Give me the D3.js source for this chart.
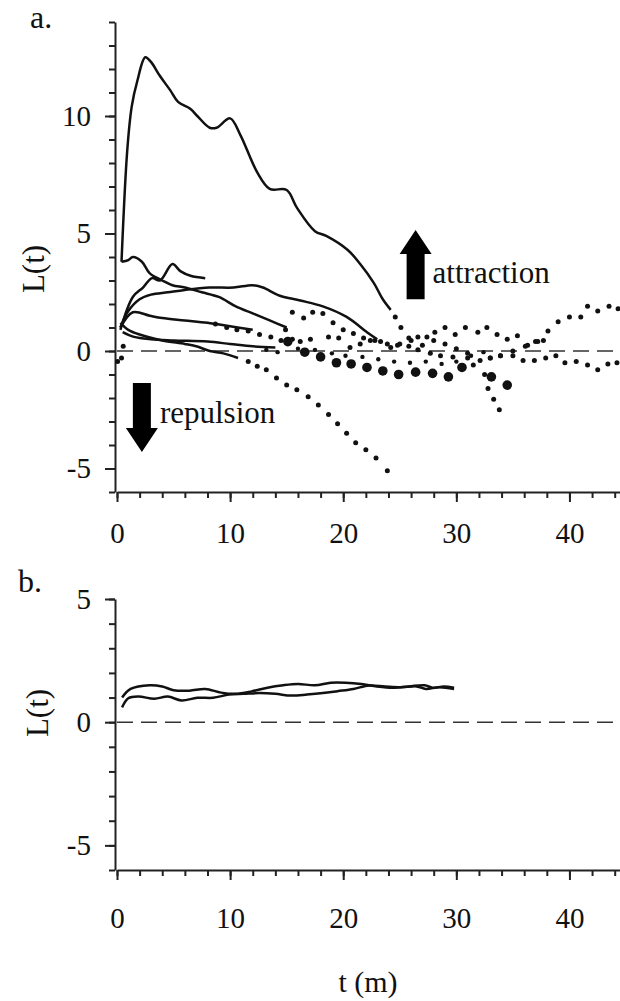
<!DOCTYPE html>
<html>
<head>
<meta charset="utf-8">
<script src="https://cdn.jsdelivr.net/npm/d3@7"></script>
<style>
  body { margin: 0; background: #fff; }
</style>
</head>
<body>
<svg id="chart" width="620" height="1001"></svg>
<script>
const FONT = "'Liberation Serif', 'DejaVu Serif', serif";

// ---- 데이터 (a 패널: 실선 구간) ----
const seriesA = [[0.4,3.8],[0.9,8.5],[1.3,10.4],[1.8,11.5],[2.5,12.5],[3.0,12.3],[3.8,11.7],[4.7,11.1],[5.4,10.6],[6.5,10.3],[7.1,10.0],[8.2,9.5],[8.8,9.5],[10,9.9],[10.9,9.2],[12.4,7.6],[13.5,6.9],[15,6.85],[15.9,6.1],[17.5,5.1],[18.5,4.9],[20.4,4.3],[21.5,3.7],[22.7,2.9],[23.5,2.2],[24.2,1.75]];
const seriesB = [[0.4,3.8],[1.0,3.87],[1.4,4.0],[2.2,3.8],[2.9,3.3],[4.0,3.0],[4.9,2.8],[6.0,2.7],[7.5,2.5],[9,2.3],[10.5,1.9],[12,1.6],[13.5,1.3],[15,1.0]];
const seriesC = [[0.3,0.9],[1.4,2.3],[2.3,2.7],[3.1,3.1],[3.8,3.0],[4.9,3.7],[5.6,3.4],[6.5,3.2],[7.8,3.1]];
const seriesD = [[0.3,1.0],[1.0,1.7],[2,2.2],[3,2.4],[4.5,2.5],[6,2.6],[8.2,2.7],[10.3,2.7],[12,2.8],[12.9,2.7],[14.4,2.35],[16.2,2.15],[18.2,1.9],[20.3,1.45],[22.1,0.8],[23,0.5]];
const seriesE = [[0.3,1.0],[1.4,1.65],[2.9,1.5],[4,1.4],[6,1.3],[8,1.2],[10,1.05],[12,0.9]];
const seriesF = [[0.5,0.8],[1.5,0.6],[3,0.5],[5,0.45],[8,0.4],[10,0.3],[12,0.2],[14,0.15]];
const seriesG = [[0.3,1.2],[1,0.9],[2,0.7],[4,0.45],[6,0.3],[7,0.2],[8.2,0],[9.4,-0.1],[10.7,-0.3]];

// ---- 데이터 (a 패널: 점선 구간) ----
const dotsA = [[24.6,1.45],[25.1,1.0],[25.8,0.55],[26.6,0.6],[27.4,0.6],[28.1,0.8],[29,1.0],[29.9,0.7],[30.8,1.0],[31.9,0.8],[32.7,1.0],[33.6,0.7],[34.5,0.5],[35.4,0.65],[36.3,0.25],[37,0.4],[37.7,0.45],[38.1,0.85],[39,1.25],[40,1.45],[41,1.45],[41.6,1.9],[42.5,1.7],[43.5,1.9],[44.3,1.8]];
const dotsG = [[11.6,-0.45],[12.4,-0.65],[13.2,-0.8],[14.1,-1.15],[15,-1.45],[15.9,-1.65],[16.9,-1.95],[17.8,-2.3],[18.7,-2.7],[19.5,-3.1],[20.3,-3.5],[21.1,-3.9],[22,-4.2],[22.9,-4.55],[23.9,-5.1]];
const dotsP = [[15.5,1.65],[16.5,1.4],[17.3,1.65],[18.2,1.6],[19.1,1.2],[20,0.9],[20.9,0.75],[21.8,0.55],[22.8,0.45],[23.9,0.3],[24.8,0.25],[25.8,0.2],[26.6,0.05],[27.7,-0.1],[28.6,-0.2],[29.7,-0.25],[31,-0.3],[32.1,-0.4],[33,-0.3],[33.9,-0.2],[35,0],[36.1,0.2],[37.2,0.4]];
const dotsQ = [[33,-0.3],[33.9,-0.2],[35,-0.2],[35.9,-0.4],[36.9,-0.4],[37.9,-0.3],[38.8,-0.2],[39.6,-0.5],[40.6,-0.45],[41.6,-0.6],[42.5,-0.8],[43.4,-0.55],[44.2,-0.5]];
const dotsR = [[8.7,1.15],[9.7,1.0],[10.6,0.9],[11.6,0.85],[12.6,0.7],[13.6,0.6],[14.5,0.45],[15.5,0.5]];
const dotsS = [[31.5,-0.6],[32.5,-1.0],[32.8,-1.6],[33.3,-2.05],[33.8,-2.5]];
const dotsT = [[14.9,0.9],[16.2,0.4],[17.1,0.5],[18.7,0.6],[19.6,0.55],[20.6,0.15],[21.5,0.3],[22.4,0.45],[23.3,0.4],[24.2,0.15],[25,0.3],[26,0.45],[27,0.25],[28,0.45],[29,0.3],[30,0.1],[31,-0.1]];
const dotsU = [[13.2,0.05],[14.2,-0.05],[16,0.1],[17.5,0.05],[19,-0.1],[20.2,-0.2],[21.7,-0.25],[23.1,-0.35],[24.5,-0.45],[25.9,-0.5],[27.3,-0.45],[28.7,-0.55],[30,-0.45],[31.3,-0.2],[32.4,-0.05]];
const dotsOrigin = [[0.05,-0.45],[0.4,-0.3],[0.55,0.2]];
const bigDots = [[15.1,0.4],[16.6,-0.05],[18,-0.25],[19.4,-0.5],[20.7,-0.55],[22.1,-0.7],[23.5,-0.85],[24.9,-1.0],[26.4,-0.9],[27.9,-0.95],[29.3,-1.1],[30.5,-0.7],[33.1,-1.1],[34.5,-1.45]];

// ---- 데이터 (b 패널) ----
const seriesB1 = [[0.45,1.0],[1.2,1.35],[2.9,1.5],[4,1.45],[5,1.3],[6.4,1.28],[7.8,1.35],[9.2,1.2],[10.5,1.15],[11.9,1.25],[13.3,1.4],[14.7,1.5],[16,1.55],[17.5,1.5],[18.9,1.6],[20.2,1.6],[21.6,1.55],[23,1.45],[24.4,1.4],[25.8,1.45],[27.2,1.5],[27.9,1.4],[28.9,1.45],[29.8,1.4]];
const seriesB2 = [[0.45,0.6],[1.0,0.97],[1.9,1.04],[3.3,0.95],[4.5,1.04],[5.7,0.88],[7.1,0.99],[8.5,0.99],[9.9,1.12],[11.2,1.15],[12.6,1.18],[14,1.15],[15.4,1.08],[16.8,1.12],[18.2,1.18],[19.5,1.26],[20.9,1.35],[22.3,1.49],[23.7,1.45],[25.1,1.42],[26.5,1.45],[27.3,1.35],[28.5,1.42],[29.8,1.35]];

// ---- 눈금 ----
const xMajorTicks = [0, 10, 20, 30, 40];
const xMinorTicks = d3.range(0, 46, 2);
const yTopMajorTicks = [-5, 0, 5, 10];
const yTopMinorTicks = d3.range(-6, 15, 1);
const yBotMajorTicks = [-5, 0, 5];
const yBotMinorTicks = d3.range(-6, 6, 1);

// ---- 화살표 주석 (t, L 좌표) ----
const attractionArrow = { t: 26.4, from: 2.2, to: 5.15 };
const repulsionArrow = { t: 2.2, from: -1.36, to: -4.3 };

const svg = d3.select("#chart");
svg.append("rect").attr("width", 620).attr("height", 1001).attr("fill", "#fff");

const x = d3.scaleLinear().domain([0, 45]).range([117, 626]);
const yTop = d3.scaleLinear().domain([-6, 14]).range([492, 22]);
const yBot = d3.scaleLinear().domain([-6, 5]).range([870, 599]);

// 축 그리기 함수
function drawAxes(y, yMajor, yMinor, yDomain, xLabelPad) {
    const xAxisY = y(yDomain[0]);

    // 0 기준 점선
    svg.append("line")
        .attr("x1", x(0)).attr("x2", 620)
        .attr("y1", y(0)).attr("y2", y(0))
        .attr("stroke", "#333")
        .attr("stroke-width", 1.6)
        .attr("stroke-dasharray", "16,8");

    // y 보조 눈금
    svg.append("g")
        .attr("transform", `translate(${x(0) - 2},0)`)
        .call(d3.axisLeft(y).tickValues(yMinor).tickSize(6).tickFormat("").tickSizeOuter(0))
        .call(g => g.select(".domain").remove())
        .selectAll(".tick line").attr("stroke-width", 2).attr("stroke", "#222");

    // y 주 눈금
    const gy = svg.append("g")
        .attr("transform", `translate(${x(0) - 2},0)`)
        .call(d3.axisLeft(y).tickValues(yMajor).tickSize(10).tickPadding(14)
            .tickFormat(d => String(d)).tickSizeOuter(0));
    gy.select(".domain").attr("stroke-width", 2).attr("stroke", "#222");
    gy.selectAll(".tick line").attr("stroke-width", 2).attr("stroke", "#222");
    gy.selectAll("text")
        .style("font-family", FONT)
        .style("font-size", "29px")
        .attr("fill", "#111");

    // x 보조 눈금
    svg.append("g")
        .attr("transform", `translate(0,${xAxisY})`)
        .call(d3.axisBottom(x).tickValues(xMinorTicks).tickSize(6).tickFormat("").tickSizeOuter(0))
        .call(g => g.select(".domain").remove())
        .selectAll(".tick line").attr("stroke-width", 2).attr("stroke", "#222");

    // x 주 눈금
    const gx = svg.append("g")
        .attr("transform", `translate(0,${xAxisY})`)
        .call(d3.axisBottom(x).tickValues(xMajorTicks).tickSize(10).tickPadding(xLabelPad)
            .tickFormat(d => String(d)).tickSizeOuter(0));
    gx.select(".domain").attr("stroke-width", 2).attr("stroke", "#222");
    gx.selectAll(".tick line").attr("stroke-width", 2).attr("stroke", "#222");
    gx.selectAll("text")
        .style("font-family", FONT)
        .style("font-size", "29px")
        .attr("fill", "#111");
}

drawAxes(yTop, yTopMajorTicks, yTopMinorTicks, [-6, 14], 20);
drawAxes(yBot, yBotMajorTicks, yBotMinorTicks, [-6, 5], 27);

// 선 그리기
function drawLine(data, y) {
    const line = d3.line()
        .x(d => x(d[0]))
        .y(d => y(d[1]))
        .curve(d3.curveCatmullRom.alpha(0.5));
    svg.append("path")
        .datum(data)
        .attr("fill", "none")
        .attr("stroke", "#111")
        .attr("stroke-width", 2.5)
        .attr("stroke-linejoin", "round")
        .attr("d", line);
}

// 점 그리기
function drawDots(data, y, r) {
    svg.append("g").selectAll("circle")
        .data(data)
        .enter()
        .append("circle")
        .attr("cx", d => x(d[0]))
        .attr("cy", d => y(d[1]))
        .attr("r", r)
        .attr("fill", "#111");
}

[seriesA, seriesB, seriesC, seriesD, seriesE, seriesF, seriesG].forEach(s => drawLine(s, yTop));
[dotsA, dotsG, dotsP, dotsQ, dotsR, dotsS, dotsT, dotsOrigin].forEach(s => drawDots(s, yTop, 2.5));
drawDots(dotsU, yTop, 2.2);
drawDots(bigDots, yTop, 4.8);

[seriesB1, seriesB2].forEach(s => drawLine(s, yBot));

// 화살표
function drawArrow(a, y) {
    const xc = x(a.t);
    const y0 = y(a.from);
    const y1 = y(a.to);
    const dir = y1 < y0 ? -1 : 1;
    const headLen = 24;
    const yb = y1 - dir * headLen;
    const p = d3.path();
    p.moveTo(xc - 9, y0);
    p.lineTo(xc - 9, yb);
    p.lineTo(xc - 16, yb);
    p.lineTo(xc, y1);
    p.lineTo(xc + 16, yb);
    p.lineTo(xc + 9, yb);
    p.lineTo(xc + 9, y0);
    p.closePath();
    svg.append("path").attr("d", p.toString()).attr("fill", "#000");
}
drawArrow(attractionArrow, yTop);
drawArrow(repulsionArrow, yTop);

function addText(xp, yp, size, str, anchor, rotate) {
    const t = svg.append("text")
        .style("font-family", FONT)
        .style("font-size", size + "px")
        .attr("fill", "#111")
        .attr("text-anchor", anchor || "start")
        .text(str);
    if (rotate) t.attr("transform", `translate(${xp},${yp}) rotate(${rotate})`);
    else t.attr("x", xp).attr("y", yp);
    return t;
}

// 주석 텍스트
addText(x(attractionArrow.t) + 17, 283, 31, "attraction");
addText(x(repulsionArrow.t) + 18, 423, 31, "repulsion");

// 패널 라벨
addText(30, 28, 32, "a.");
addText(18, 592, 32, "b.");

// 축 제목
addText(44, 269, 31, "L(t)", "middle", -90);
addText(48, 713, 31, "L(t)", "middle", -90);
addText(368, 992, 30, "t (m)", "middle");
</script>
</body>
</html>
